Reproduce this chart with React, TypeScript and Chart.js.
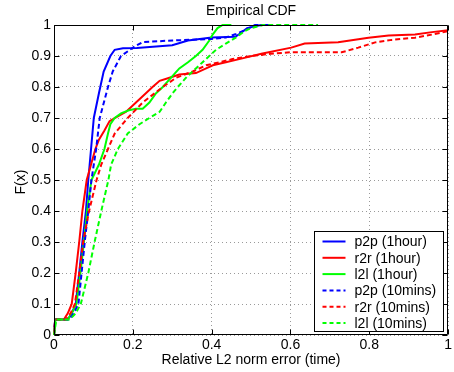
import React, { useEffect, useRef } from "react";
import { Chart, registerables } from "chart.js";

Chart.register(...registerables);

const TITLE = "Empirical CDF";
const X_LABEL = "Relative L2 norm error (time)";
const Y_LABEL = "F(x)";
const X_TICKS = [0, 0.2, 0.4, 0.6, 0.8, 1];
const X_TICK_LABELS = ["0", "0.2", "0.4", "0.6", "0.8", "1"];
const Y_TICKS = [0, 0.1, 0.2, 0.3, 0.4, 0.5, 0.6, 0.7, 0.8, 0.9, 1];
const Y_TICK_LABELS = ["0", "0.1", "0.2", "0.3", "0.4", "0.5", "0.6", "0.7", "0.8", "0.9", "1"];

const SERIES_NAMES = ["p2p (1hour)", "r2r (1hour)", "l2l (1hour)", "p2p (10mins)", "r2r (10mins)", "l2l (10mins)"];
const SERIES_COLORS = ["#0000ff", "#ff0000", "#00ff00", "#0000ff", "#ff0000", "#00ff00"];
const SERIES_DASHED = [false, false, false, true, true, true];

// p2p (1hour)
const p2p1hX = [0, 0.003, 0.035, 0.045, 0.055, 0.064, 0.072, 0.081, 0.087, 0.094, 0.101, 0.114, 0.126, 0.143, 0.154, 0.175, 0.21, 0.3, 0.34, 0.4, 0.46, 0.475, 0.49, 0.525, 0.55];
const p2p1hY = [0, 0.05, 0.05, 0.07, 0.1, 0.2, 0.3, 0.4, 0.5, 0.6, 0.7, 0.78, 0.85, 0.9, 0.92, 0.925, 0.926, 0.935, 0.95, 0.96, 0.962, 0.975, 0.99, 1.0, 1.0];
// r2r (1hour)
const r2r1hX = [0, 0.003, 0.025, 0.035, 0.045, 0.055, 0.064, 0.072, 0.083, 0.094, 0.105, 0.114, 0.128, 0.141, 0.154, 0.183, 0.208, 0.225, 0.25, 0.268, 0.293, 0.318, 0.36, 0.386, 0.403, 0.436, 0.47, 0.526, 0.602, 0.636, 0.721, 0.798, 0.849, 0.916, 0.959, 1.0];
const r2r1hY = [0, 0.05, 0.05, 0.07, 0.1, 0.2, 0.3, 0.4, 0.5, 0.55, 0.6, 0.63, 0.66, 0.69, 0.7, 0.72, 0.75, 0.77, 0.8, 0.82, 0.83, 0.84, 0.845, 0.86, 0.87, 0.88, 0.89, 0.907, 0.927, 0.94, 0.944, 0.959, 0.966, 0.969, 0.977, 0.983];
// l2l (1hour)
const l2l1hX = [0, 0.004, 0.035, 0.045, 0.057, 0.067, 0.076, 0.084, 0.095, 0.114, 0.128, 0.137, 0.143, 0.154, 0.17, 0.19, 0.208, 0.225, 0.242, 0.259, 0.276, 0.297, 0.318, 0.34, 0.36, 0.377, 0.394, 0.403, 0.415, 0.428, 0.45];
const l2l1hY = [0, 0.05, 0.05, 0.07, 0.1, 0.2, 0.3, 0.4, 0.5, 0.55, 0.6, 0.65, 0.68, 0.7, 0.715, 0.725, 0.73, 0.73, 0.75, 0.78, 0.8, 0.83, 0.86, 0.88, 0.9, 0.92, 0.95, 0.97, 0.99, 1.0, 1.0];
// p2p (10mins)
const p2p10X = [0, 0.003, 0.038, 0.05, 0.062, 0.07, 0.078, 0.087, 0.095, 0.107, 0.116, 0.137, 0.149, 0.17, 0.204, 0.225, 0.3, 0.4, 0.436, 0.46, 0.487, 0.51, 0.55];
const p2p10Y = [0, 0.05, 0.05, 0.07, 0.1, 0.2, 0.3, 0.4, 0.5, 0.6, 0.7, 0.8, 0.85, 0.9, 0.93, 0.945, 0.95, 0.955, 0.96, 0.97, 0.985, 1.0, 1.0];
// r2r (10mins)
const r2r10X = [0, 0.003, 0.03, 0.042, 0.053, 0.064, 0.074, 0.089, 0.108, 0.12, 0.137, 0.154, 0.187, 0.225, 0.276, 0.31, 0.352, 0.386, 0.42, 0.453, 0.5, 0.55, 0.6, 0.73, 0.772, 0.815, 0.857, 0.916, 0.959, 1.0];
const r2r10Y = [0, 0.05, 0.05, 0.07, 0.1, 0.2, 0.3, 0.4, 0.5, 0.55, 0.6, 0.65, 0.7, 0.75, 0.8, 0.83, 0.85, 0.87, 0.88, 0.89, 0.9, 0.907, 0.912, 0.912, 0.927, 0.944, 0.952, 0.959, 0.969, 0.98];
// l2l (10mins)
const l2l10X = [0, 0.006, 0.04, 0.055, 0.068, 0.087, 0.103, 0.12, 0.138, 0.145, 0.162, 0.187, 0.217, 0.242, 0.268, 0.284, 0.301, 0.314, 0.335, 0.36, 0.377, 0.394, 0.411, 0.436, 0.462, 0.483, 0.5, 0.53, 0.67];
const l2l10Y = [0, 0.05, 0.05, 0.07, 0.1, 0.2, 0.3, 0.4, 0.5, 0.55, 0.6, 0.65, 0.68, 0.7, 0.72, 0.75, 0.78, 0.8, 0.83, 0.86, 0.88, 0.9, 0.92, 0.94, 0.96, 0.98, 0.99, 1.0, 1.0];

const SERIES_X = [p2p1hX, r2r1hX, l2l1hX, p2p10X, r2r10X, l2l10X];
const SERIES_Y = [p2p1hY, r2r1hY, l2l1hY, p2p10Y, r2r10Y, l2l10Y];

const FONT = '"Liberation Sans", Arial, Helvetica, sans-serif';
const DASH = [5, 3];

const framePlugin = {
  id: "matlabFrame",
  afterDraw(chart: any) {
    const { ctx, chartArea, scales } = chart;
    const { left, right, top, bottom } = chartArea;
    const xs = scales.x;
    const ys = scales.y;
    const L = Math.round(left) + 0.5;
    const R = Math.round(right) - 0.5;
    const T = Math.round(top) + 0.5;
    const B = Math.round(bottom) - 0.5;
    ctx.save();
    ctx.strokeStyle = "#000";
    ctx.lineWidth = 1;
    ctx.setLineDash([]);
    ctx.beginPath();
    ctx.rect(L, T, R - L, B - T);
    const tl = 5;
    X_TICKS.forEach((v) => {
      const px = Math.round(xs.getPixelForValue(v)) + 0.5;
      ctx.moveTo(px, B);
      ctx.lineTo(px, B - tl);
      ctx.moveTo(px, T);
      ctx.lineTo(px, T + tl);
    });
    Y_TICKS.forEach((v) => {
      const py = Math.round(ys.getPixelForValue(v)) + 0.5;
      ctx.moveTo(L, py);
      ctx.lineTo(L + tl, py);
      ctx.moveTo(R, py);
      ctx.lineTo(R - tl, py);
    });
    ctx.stroke();

    // title & axis labels
    ctx.fillStyle = "#000";
    ctx.font = `14px ${FONT}`;
    ctx.textAlign = "center";
    ctx.textBaseline = "middle";
    const cx = (left + right) / 2;
    ctx.fillText(TITLE, cx, 11);
    ctx.fillText(X_LABEL, cx, 360);
    ctx.save();
    ctx.translate(21, (top + bottom) / 2 + 2);
    ctx.rotate(-Math.PI / 2);
    ctx.fillText(Y_LABEL, 0, 0);
    ctx.restore();

    // legend
    const bw = 129;
    const bh = 100;
    const bx = Math.round(right) - 5 - bw + 0.5;
    const by = Math.round(bottom) - 4 - bh + 0.5;
    ctx.fillStyle = "#fff";
    ctx.fillRect(bx, by, bw, bh);
    ctx.strokeStyle = "#000";
    ctx.lineWidth = 1;
    ctx.strokeRect(bx, by, bw, bh);
    const rowH = 16.3;
    SERIES_NAMES.forEach((name, i) => {
      const ry = by + 10 + i * rowH;
      ctx.beginPath();
      ctx.strokeStyle = SERIES_COLORS[i];
      ctx.lineWidth = 2;
      ctx.setLineDash(SERIES_DASHED[i] ? [4, 3] : []);
      ctx.moveTo(bx + 8, ry);
      ctx.lineTo(bx + 31, ry);
      ctx.stroke();
      ctx.setLineDash([]);
      ctx.fillStyle = "#000";
      ctx.textAlign = "left";
      ctx.textBaseline = "middle";
      ctx.fillText(name, bx + 40, ry + 1);
    });
    ctx.restore();
  },
};

export default function App() {
  const ref = useRef<HTMLCanvasElement | null>(null);
  useEffect(() => {
    document.body.style.margin = "0";
    const canvas = ref.current;
    if (!canvas) return;
    const datasets = SERIES_NAMES.map((name, i) => ({
      label: name,
      data: SERIES_X[i].map((x, j) => ({ x, y: SERIES_Y[i][j] })),
      borderColor: SERIES_COLORS[i],
      backgroundColor: SERIES_COLORS[i],
      borderWidth: 2,
      borderDash: SERIES_DASHED[i] ? DASH : [],
      pointRadius: 0,
      tension: 0,
      fill: false,
      clip: false as any,
      order: SERIES_NAMES.length - i,
    }));
    const chart = new Chart(canvas, {
      type: "line",
      data: { datasets },
      options: {
        responsive: false,
        animation: false,
        events: [],
        layout: { padding: { left: 0, right: 5, top: 25, bottom: 0 } },
        plugins: {
          legend: { display: false },
          title: { display: false },
          tooltip: { enabled: false },
        },
        scales: {
          x: {
            type: "linear",
            min: 0,
            max: 1,
            afterBuildTicks: (s: any) => {
              s.ticks = X_TICKS.map((v) => ({ value: v }));
            },
            afterFit: (s: any) => {
              s.height = 37;
            },
            ticks: {
              autoSkip: false,
              maxRotation: 0,
              color: "#000",
              padding: 2,
              font: { family: FONT, size: 14 },
              callback: (_v: any, i: number) => X_TICK_LABELS[i],
            },
            grid: { color: "#9a9a9a", lineWidth: 1, drawTicks: false },
            border: { display: false, dash: [1, 3] },
          },
          y: {
            type: "linear",
            min: 0,
            max: 1,
            afterBuildTicks: (s: any) => {
              s.ticks = Y_TICKS.map((v) => ({ value: v }));
            },
            afterFit: (s: any) => {
              s.width = 54;
            },
            ticks: {
              autoSkip: false,
              color: "#000",
              padding: 3,
              font: { family: FONT, size: 14 },
              callback: (_v: any, i: number) => Y_TICK_LABELS[i],
            },
            grid: { color: "#9a9a9a", lineWidth: 1, drawTicks: false },
            border: { display: false, dash: [1, 3] },
          },
        },
      },
      plugins: [framePlugin],
    });
    return () => chart.destroy();
  }, []);
  return (
    <div style={{ width: 454, height: 372, background: "#fff" }}>
      <canvas ref={ref} width={454} height={372} style={{ display: "block" }} />
    </div>
  );
}
